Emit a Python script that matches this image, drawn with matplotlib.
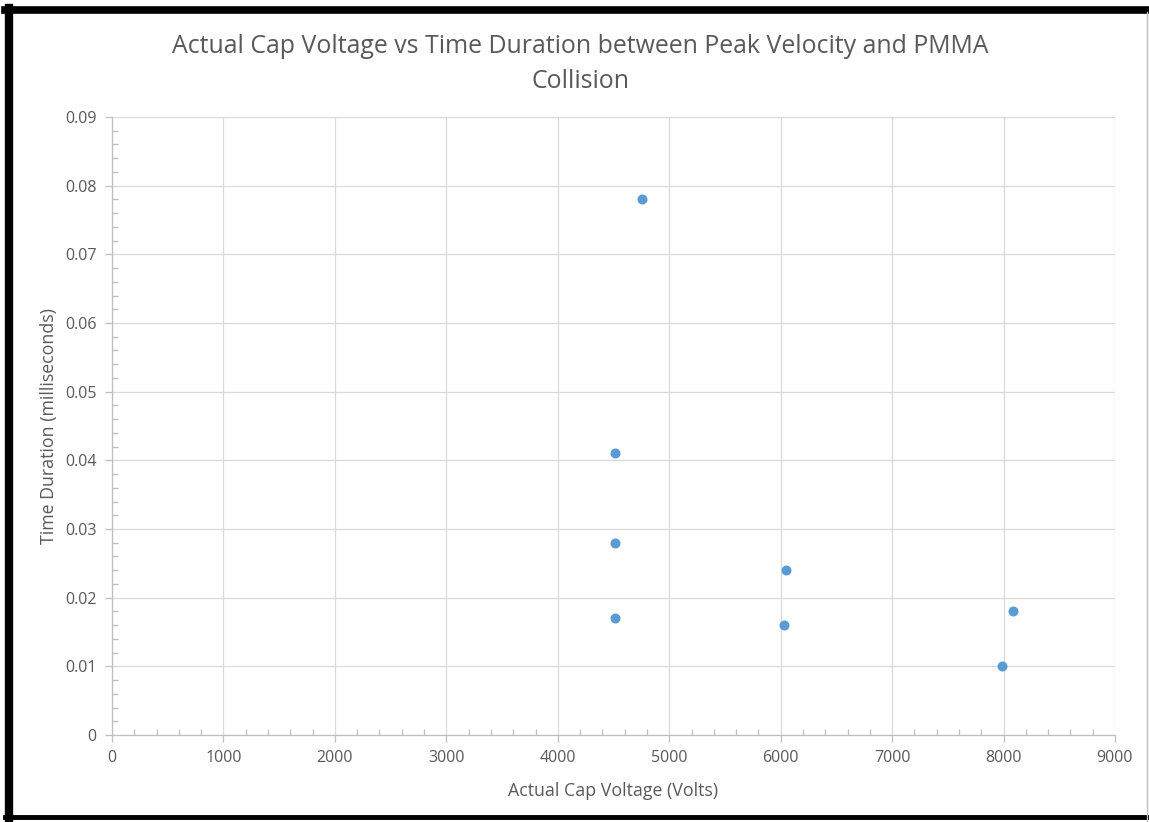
import matplotlib
matplotlib.use("Agg")
import matplotlib.pyplot as plt
from matplotlib import ticker
from matplotlib.lines import Line2D

plt.rcParams['font.family'] = ['Open Sans', 'DejaVu Sans']

# data
cap_voltage = [4757, 4510, 4510, 4510, 6050, 6032, 8088, 7990]
time_duration = [0.078, 0.041, 0.028, 0.017, 0.024, 0.016, 0.018, 0.010]

x_ticks = [0, 1000, 2000, 3000, 4000, 5000, 6000, 7000, 8000, 9000]
y_ticks = [0, 0.01, 0.02, 0.03, 0.04, 0.05, 0.06, 0.07, 0.08, 0.09]
y_tick_labels = ['0', '0.01', '0.02', '0.03', '0.04', '0.05', '0.06', '0.07', '0.08', '0.09']

text_col = '#595959'
grid_col = '#D9D9D9'
axis_col = '#BFBFBF'

fig = plt.figure(figsize=(11.49, 8.22), dpi=100)
ax = fig.add_axes([0.0975, 0.1058, 0.8729, 0.7519])

ax.scatter(cap_voltage, time_duration, s=52, color='#5B9BD5', zorder=3, linewidths=0)

ax.set_xlim(0, 9000)
ax.set_ylim(0, 0.09)
ax.set_xticks(x_ticks)
ax.set_yticks(y_ticks)
ax.set_yticklabels(y_tick_labels)
ax.xaxis.set_minor_locator(ticker.AutoMinorLocator(5))
ax.yaxis.set_minor_locator(ticker.AutoMinorLocator(5))

ax.grid(True, which='major', color=grid_col, linewidth=0.9)
ax.set_axisbelow(True)

for side in ['top', 'right']:
    ax.spines[side].set_visible(False)
for side in ['left', 'bottom']:
    ax.spines[side].set_color(axis_col)
    ax.spines[side].set_linewidth(0.9)

ax.tick_params(which='major', direction='out', length=5, width=0.9, color=axis_col,
               labelcolor=text_col, labelsize=11.5, pad=6)
ax.tick_params(which='minor', direction='in', length=4, width=0.9, color=axis_col)

ax.set_xlabel('Actual Cap Voltage (Volts)', color=text_col, fontsize=12.8, labelpad=11)
ax.set_ylabel('Time Duration (milliseconds)', color=text_col, fontsize=12.8, labelpad=5)

fig.text(0.505, 0.922, 'Actual Cap Voltage vs Time Duration between Peak Velocity and PMMA\nCollision',
         ha='center', va='center', color=text_col, fontsize=17.9, linespacing=1.5)

# black frame of the screenshot (top, left, bottom)
fig.add_artist(Line2D([0.004, 1.0], [0.9875, 0.9875], color='black', linewidth=5.5,
                      transform=fig.transFigure))
fig.add_artist(Line2D([0.008, 0.008], [0.0, 0.99], color='black', linewidth=6,
                      transform=fig.transFigure))
fig.add_artist(Line2D([0.004, 1.0], [0.006, 0.006], color='black', linewidth=3.5,
                      transform=fig.transFigure))
fig.add_artist(Line2D([0.998, 0.998], [0.0, 0.985], color='#BFBFBF', linewidth=1,
                      transform=fig.transFigure))

fig.savefig('out.png', dpi=100)
